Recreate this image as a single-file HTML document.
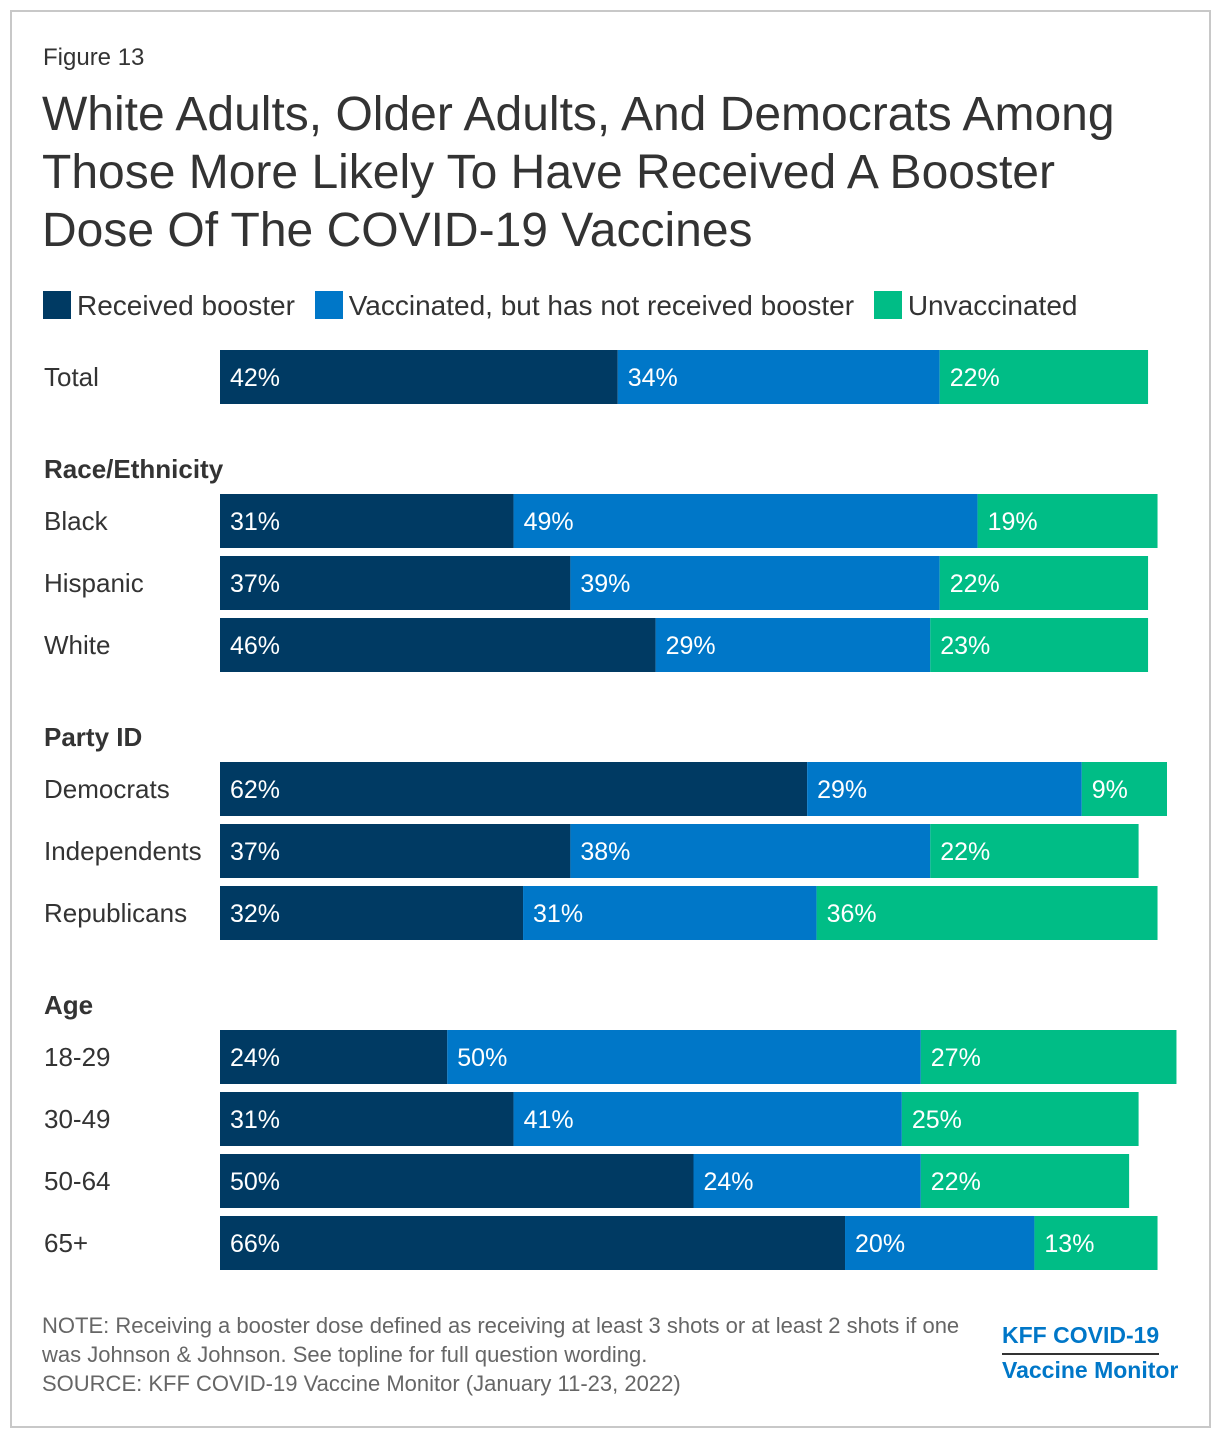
<!DOCTYPE html>
<html><head><meta charset="utf-8"><style>
body{margin:0;width:1220px;height:1438px;background:#fff;font-family:"Liberation Sans",sans-serif;position:relative;overflow:hidden}
.frame{position:absolute;left:10px;top:10px;width:1197px;height:1414px;border:2px solid #c8c8c8}
.t{position:absolute;color:#333;white-space:nowrap}
</style></head><body>
<div class="frame"></div>
<div class="t" style="left:43px;top:44px;font-size:24px">Figure 13</div>
<div class="t" style="left:42px;top:86px;font-size:48px;line-height:58px;color:#333">White Adults, Older Adults, And Democrats Among<br>Those More Likely To Have Received A Booster<br>Dose Of The COVID-19 Vaccines</div>
<div style="position:absolute;left:43px;top:290px;font-size:28px;color:#333;white-space:nowrap">
<span><span style="display:inline-block;width:28px;height:28px;background:#003a63;vertical-align:-4px;margin-right:6px"></span>Received booster</span>
<span style="margin-left:12px"><span style="display:inline-block;width:28px;height:28px;background:#0077c8;vertical-align:-4px;margin-right:6px"></span>Vaccinated, but has not received booster</span>
<span style="margin-left:12px"><span style="display:inline-block;width:28px;height:28px;background:#00bd86;vertical-align:-4px;margin-right:6px"></span>Unvaccinated</span>
</div>
<svg id="chart" width="1220" height="1438" style="position:absolute;left:0;top:0"></svg>
<div class="t" style="left:42px;top:1311px;font-size:22px;line-height:29px;color:#666">NOTE: Receiving a booster dose defined as receiving at least 3 shots or at least 2 shots if one<br>was Johnson &amp; Johnson. See topline for full question wording.<br>SOURCE: KFF COVID-19 Vaccine Monitor (January 11-23, 2022)</div>
<div class="t" style="left:1002px;top:1318px;font-size:23px;font-weight:bold;color:#0077c8;line-height:34px">
<div style="border-bottom:2px solid #333;display:inline-block;padding-bottom:1px">KFF COVID-19</div><br><div style="margin-top:-2px">Vaccine Monitor</div></div>
<script>
const categories=["Total","Black","Hispanic","White","Democrats","Independents","Republicans","18-29","30-49","50-64","65+"];
const received=[42,31,37,46,62,37,32,24,31,50,66];
const vaccinated=[34,49,39,29,29,38,31,50,41,24,20];
const unvaccinated=[22,19,22,23,9,22,36,27,25,22,13];
const rowTops=[350,494,556,618,762,824,886,1030,1092,1154,1216];
const headers=[["Race/Ethnicity",478],["Party ID",746],["Age",1014]];
const NS="http://www.w3.org/2000/svg";
const svg=document.getElementById('chart');
const x0=220,scale=9.47,bh=54;
const xs=v=>v*scale;
const series=[[received,"#003a63","received"],[vaccinated,"#0077c8","vaccinated"],[unvaccinated,"#00bd86","unvaccinated"]];
function txt(x,y,s,size,color,bold){const t=document.createElementNS(NS,'text');t.setAttribute('x',x);t.setAttribute('y',y);t.setAttribute('font-size',size);t.setAttribute('fill',color);t.setAttribute('font-family','Liberation Sans, sans-serif');if(bold)t.setAttribute('font-weight','bold');t.textContent=s;svg.appendChild(t);return t;}
headers.forEach(h=>{const t=txt(44,h[1],h[0],26,"#333",true);

});
categories.forEach((c,i)=>{const y=rowTops[i];
const l=txt(44,y+36,c,26,"#333",false);


let x=x0;
series.forEach(s=>{const v=s[0][i];const w=xs(v);
const r=document.createElementNS(NS,'rect');r.setAttribute('x',x);r.setAttribute('y',y);r.setAttribute('width',w);r.setAttribute('height',bh);r.setAttribute('fill',s[1]);


svg.appendChild(r);
const t=txt(x+10,y+36,v+"%",25,"#fff",false);


x+=w;});});
</script>
</body></html>
